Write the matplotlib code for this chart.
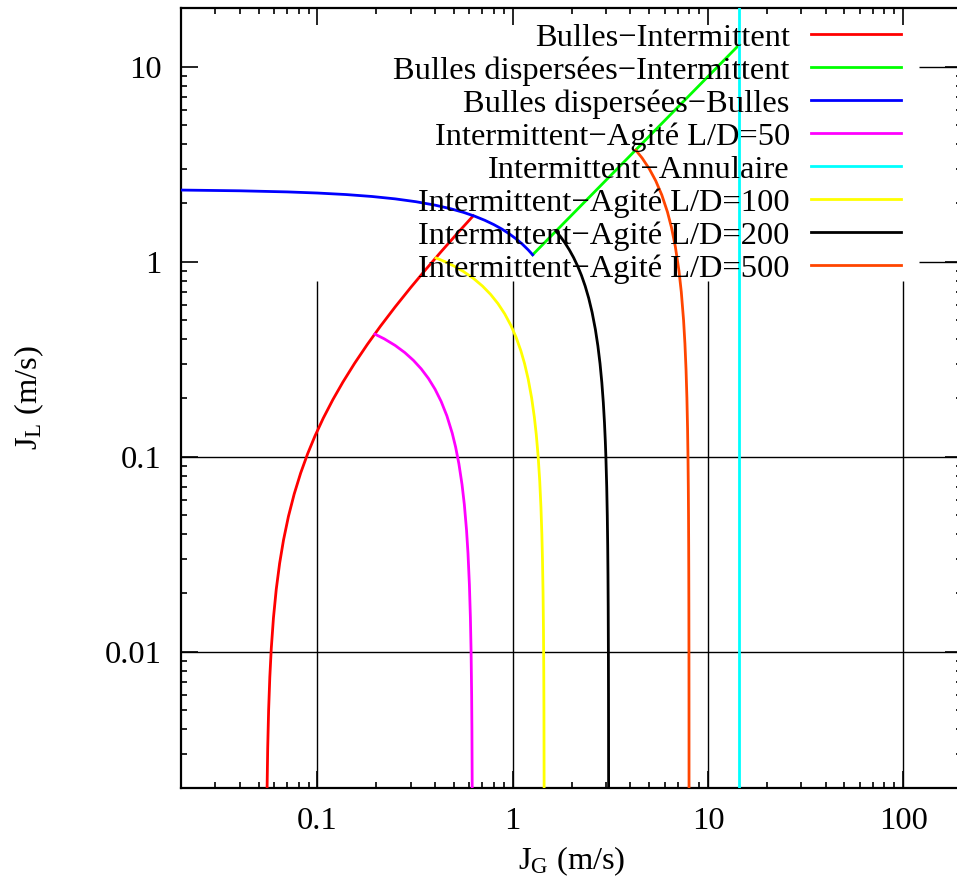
import matplotlib
matplotlib.use("Agg")
import matplotlib.pyplot as plt
from matplotlib.ticker import LogLocator, NullFormatter, FixedLocator, FixedFormatter

plt.rcParams['font.family'] = ['Liberation Serif', 'DejaVu Serif']
plt.rcParams['mathtext.fontset'] = 'custom'
plt.rcParams['mathtext.rm'] = 'Liberation Serif'
plt.rcParams['mathtext.it'] = 'Liberation Serif:italic'

# ---- data (J_G, J_L in m/s) ----
red_x = [0.0552, 0.0556, 0.0562, 0.0570, 0.0580, 0.0595, 0.0615, 0.064, 0.067, 0.071, 0.076, 0.082,
         0.089, 0.097, 0.107, 0.12, 0.135, 0.155, 0.18, 0.21, 0.25, 0.30, 0.36, 0.43, 0.52, 0.628]
red_y = [0.0020, 0.0032, 0.0050, 0.0074, 0.0104, 0.0149, 0.0209, 0.0284, 0.0374, 0.0494, 0.0644, 0.0824,
         0.1034, 0.1274, 0.1574, 0.1964, 0.2414, 0.3014, 0.3764, 0.4664, 0.5864, 0.7364, 0.9164, 1.1264, 1.3964, 1.72]

green_x = [1.265, 14.5]
green_y = [1.085, 13.0]

blue_x = [0.02, 0.04, 0.07, 0.10, 0.14, 0.19, 0.25, 0.32, 0.40, 0.48, 0.56, 0.64, 0.72, 0.80,
          0.88, 0.96, 1.04, 1.12, 1.20, 1.265]
blue_y = [2.33, 2.31, 2.28, 2.25, 2.21, 2.16, 2.10, 2.03, 1.95, 1.87, 1.79, 1.71, 1.63, 1.55,
          1.47, 1.39, 1.31, 1.23, 1.15, 1.085]

mag_x = [0.197, 0.22, 0.25, 0.28, 0.31, 0.34, 0.37, 0.40, 0.43, 0.46, 0.49, 0.51, 0.53, 0.55,
         0.565, 0.58, 0.59, 0.60, 0.607, 0.612, 0.616, 0.618, 0.620]
mag_y = [0.425, 0.402, 0.372, 0.342, 0.312, 0.282, 0.252, 0.222, 0.192, 0.162, 0.132, 0.112, 0.092, 0.072,
         0.057, 0.042, 0.032, 0.022, 0.015, 0.010, 0.006, 0.004, 0.002]

cyan_x = [14.5, 14.5]
cyan_y = [0.002, 20.0]

yel_x = [0.405, 0.45, 0.50, 0.56, 0.63, 0.70, 0.77, 0.84, 0.91, 0.98, 1.04, 1.10, 1.15, 1.20,
         1.25, 1.29, 1.32, 1.35, 1.375, 1.395, 1.41, 1.42, 1.43, 1.437, 1.442, 1.445, 1.448]
yel_y = [1.045, 1.00, 0.95, 0.89, 0.82, 0.75, 0.68, 0.61, 0.54, 0.47, 0.41, 0.35, 0.30, 0.25,
         0.20, 0.16, 0.13, 0.10, 0.075, 0.055, 0.04, 0.03, 0.02, 0.013, 0.008, 0.005, 0.002]

blk_x = [1.665, 1.75, 1.85, 1.95, 2.05, 2.15, 2.25, 2.35, 2.45, 2.55, 2.65, 2.73, 2.80, 2.86,
         2.91, 2.95, 2.98, 3.00, 3.03, 3.05, 3.065, 3.075, 3.083, 3.09, 3.094, 3.096, 3.098]
blk_y = [1.435, 1.35, 1.25, 1.15, 1.05, 0.95, 0.85, 0.75, 0.65, 0.55, 0.45, 0.37, 0.30, 0.24,
         0.19, 0.15, 0.12, 0.10, 0.07, 0.05, 0.035, 0.025, 0.017, 0.010, 0.006, 0.004, 0.002]

org_x = [4.27, 4.6, 5.0, 5.4, 5.8, 6.2, 6.5, 6.8, 7.1, 7.3, 7.5, 7.62, 7.72, 7.80, 7.86, 7.90,
         7.93, 7.95, 7.965, 7.975, 7.983, 7.99, 7.994, 7.996, 7.998]
org_y = [3.73, 3.4, 3.0, 2.6, 2.2, 1.8, 1.5, 1.2, 0.9, 0.7, 0.5, 0.38, 0.28, 0.20, 0.14, 0.10,
         0.07, 0.05, 0.035, 0.025, 0.017, 0.010, 0.006, 0.004, 0.002]

series = [
    ("Bulles−Intermittent", red_x, red_y, "#ff0000"),
    ("Bulles dispersées−Intermittent", green_x, green_y, "#00ff00"),
    ("Bulles dispersées−Bulles", blue_x, blue_y, "#0000ff"),
    ("Intermittent−Agité L/D=50", mag_x, mag_y, "#ff00ff"),
    ("Intermittent−Annulaire", cyan_x, cyan_y, "#00ffff"),
    ("Intermittent−Agité L/D=100", yel_x, yel_y, "#ffff00"),
    ("Intermittent−Agité L/D=200", blk_x, blk_y, "#000000"),
    ("Intermittent−Agité L/D=500", org_x, org_y, "#ff4500"),
]

xticks = [0.1, 1, 10, 100]
xticklabels = ["0.1", "1", "10", "100"]
yticks = [0.01, 0.1, 1, 10]
yticklabels = ["0.01", "0.1", "1", "10"]

xlim = (0.02, 200)
ylim = (0.002, 20)

FS = 23.4

fig = plt.figure(figsize=(9.57, 8.90), dpi=100)
L, R, T, B = 181, 962, 8, 788
ax = fig.add_axes([L / 957, (890 - B) / 890, (R - L) / 957, (B - T) / 890])
ax.set_xscale('log')
ax.set_yscale('log')
ax.set_xlim(*xlim)
ax.set_ylim(*ylim)

# grid-like lines (gnuplot grid, blanked behind the key)
ax.vlines(xticks, ylim[0], 0.8, color='black', lw=1.0, zorder=1)
ax.hlines([0.01, 0.1], xlim[0], xlim[1], color='black', lw=1.0, zorder=1)
ax.hlines([1, 10], 120, xlim[1], color='black', lw=1.0, zorder=1)

for lab, xs, ys, c in series:
    ax.plot(xs, ys, color=c, lw=2.0, label=lab, zorder=3)

ax.xaxis.set_major_locator(FixedLocator(xticks))
ax.xaxis.set_major_formatter(FixedFormatter(xticklabels))
ax.yaxis.set_major_locator(FixedLocator(yticks))
ax.yaxis.set_major_formatter(FixedFormatter(yticklabels))
for a in (ax.xaxis, ax.yaxis):
    a.set_minor_locator(LogLocator(base=10, subs=range(2, 10), numticks=20))
    a.set_minor_formatter(NullFormatter())

ax.tick_params(which='both', direction='in', top=True, right=True, width=1.2, colors='black')
ax.tick_params(which='major', length=12)
ax.tick_params(which='minor', length=4.5)
ax.tick_params(axis='x', which='major', labelsize=FS, pad=14)
ax.tick_params(axis='y', which='major', labelsize=FS, pad=14)
for s in ax.spines.values():
    s.set_linewidth(1.6)

ax.set_xlabel(r"J$_\mathrm{G}$ (m/s)", fontsize=FS, labelpad=6)
ax.set_ylabel(r"J$_\mathrm{L}$ (m/s)", fontsize=FS, labelpad=42)

leg = ax.legend(loc='upper right', bbox_to_anchor=((901 - L) / (R - L), (B - 23) / (B - T)),
                frameon=False, markerfirst=False, fontsize=FS, handlelength=2.77,
                handletextpad=0.65, labelspacing=0.1, borderpad=0, borderaxespad=0)

fig.savefig("out.png", dpi=100)
